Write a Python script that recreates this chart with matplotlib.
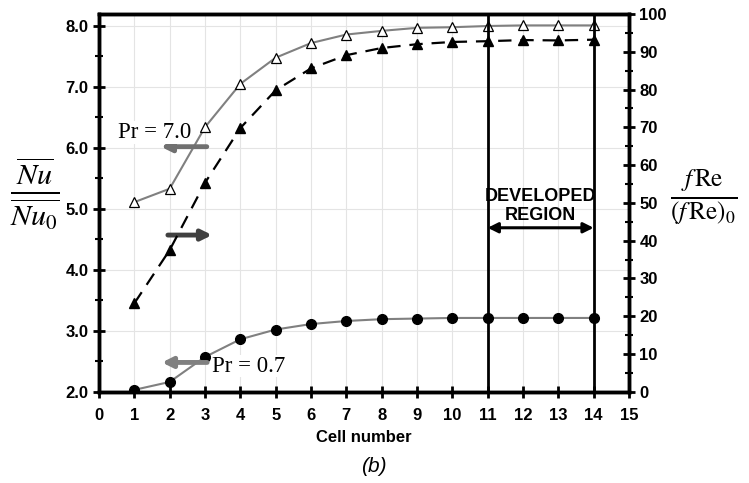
import matplotlib
matplotlib.use("Agg")
import matplotlib.pyplot as plt
from matplotlib.ticker import MultipleLocator

plt.rcParams['font.family'] = ['Liberation Sans', 'DejaVu Sans']
plt.rcParams['mathtext.fontset'] = 'stix'

cells = [1, 2, 3, 4, 5, 6, 7, 8, 9, 10, 11, 12, 13, 14]
nu_pr7 = [5.11, 5.33, 6.34, 7.05, 7.48, 7.72, 7.86, 7.92, 7.97, 7.98, 8.00, 8.01, 8.01, 8.01]
nu_pr07 = [2.03, 2.16, 2.57, 2.86, 3.02, 3.11, 3.16, 3.19, 3.20, 3.21, 3.21, 3.21, 3.21, 3.21]
fre = [23.4, 37.5, 55.3, 69.8, 79.8, 85.6, 89.1, 91.0, 92.0, 92.6, 92.8, 93.1, 93.0, 93.2]
x_ticks = list(range(0, 16))
left_ticks = [2.0, 3.0, 4.0, 5.0, 6.0, 7.0, 8.0]
right_ticks = list(range(0, 101, 10))
developed = (11, 14)

fig = plt.figure(figsize=(7.49, 4.83), dpi=100)
ax = fig.add_axes([99/749, 1-391.7/483, (629-99)/749, (391.7-14)/483])
ax2 = ax.twinx()

ax.set_xlim(0, 15)
ax.set_ylim(2.0, 8.197)
ax2.set_ylim(0, 100)

# grid
for xv in x_ticks[1:-1]:
    ax.axvline(xv, color='#e4e4e4', lw=0.8, zorder=0)
for yv in left_ticks[1:]:
    ax.axhline(yv, color='#e4e4e4', lw=0.8, zorder=0)

ax.plot(cells, nu_pr7, color='#808080', lw=1.5, marker='^', ms=6.5,
        mfc='white', mec='black', mew=0.9, zorder=3)
ax.plot(cells, nu_pr07, color='#808080', lw=1.5, marker='o', ms=7,
        mfc='black', mec='black', zorder=3)
ax2.plot(cells, fre, color='black', lw=1.6, ls=(0, (6, 4)), marker='^', ms=6.5,
         mfc='black', mec='black', zorder=3)

for xv in developed:
    ax2.axvline(xv, color='black', lw=2, zorder=4)

ax.set_xticks(x_ticks)
ax.set_yticks(left_ticks)
ax.set_yticklabels([f"{v:.1f}" for v in left_ticks])
ax.yaxis.set_minor_locator(MultipleLocator(0.5))
ax2.set_yticks(right_ticks)
ax2.yaxis.set_minor_locator(MultipleLocator(5))

for a in (ax, ax2):
    for s in a.spines.values():
        s.set_linewidth(2.5)
    a.tick_params(which='major', direction='inout', length=9, width=2,
                  labelsize=12, pad=3)
    a.tick_params(which='minor', direction='inout', length=6, width=1.5)
    for lab in a.get_xticklabels() + a.get_yticklabels():
        lab.set_fontweight('bold')
ax.tick_params(axis='x', pad=7)

ax.set_xlabel('Cell number', fontsize=12, fontweight='bold', labelpad=5)

# annotations
ax.annotate('', xy=(1.75, 6.02), xytext=(3.05, 6.02),
            arrowprops=dict(arrowstyle='-|>,head_length=0.6,head_width=0.3',
                            color='#707070', lw=3.5, shrinkA=0, shrinkB=0), zorder=5)
ax.text(1.58, 6.25, 'Pr = 7.0', fontsize=16.5, family='Liberation Serif',
        ha='center', va='center', zorder=5,
        bbox=dict(facecolor='white', edgecolor='none', pad=0.5))
ax.annotate('', xy=(3.2, 4.57), xytext=(1.95, 4.57),
            arrowprops=dict(arrowstyle='-|>,head_length=0.6,head_width=0.3',
                            color='#404040', lw=3.5, shrinkA=0, shrinkB=0), zorder=5)
ax.annotate('', xy=(1.78, 2.48), xytext=(3.06, 2.48),
            arrowprops=dict(arrowstyle='-|>,head_length=0.6,head_width=0.3',
                            color='#808080', lw=3.5, shrinkA=0, shrinkB=0), zorder=5)
ax.text(3.2, 2.42, 'Pr = 0.7', fontsize=16.5, family='Liberation Serif',
        ha='left', va='center', zorder=5,
        bbox=dict(facecolor='white', edgecolor='none', pad=0.5))

ax2.text(12.5, 49.2, 'DEVELOPED\nREGION', fontsize=13, fontweight='bold',
         ha='center', va='center', linespacing=1.2, zorder=6)
ax2.annotate('', xy=(11, 43.4), xytext=(14, 43.4),
             arrowprops=dict(arrowstyle='<|-|>,head_length=0.6,head_width=0.3',
                             color='black', lw=2.2, shrinkA=0, shrinkB=0), zorder=6)

fig.text(35/749, 1-194/483, r'$\frac{\overline{Nu}}{\overline{Nu_0}}$', fontsize=31,
         ha='center', va='center')
fig.text(704/749, 1-197/483, r'$\frac{f\,\mathrm{Re}}{\left(f\,\mathrm{Re}\right)_0}$',
         fontsize=26, ha='center', va='center')
fig.text(374/749, 1-467/483, '(b)', fontsize=15, style='italic', ha='center', va='center')

fig.savefig('out.png', dpi=100)
